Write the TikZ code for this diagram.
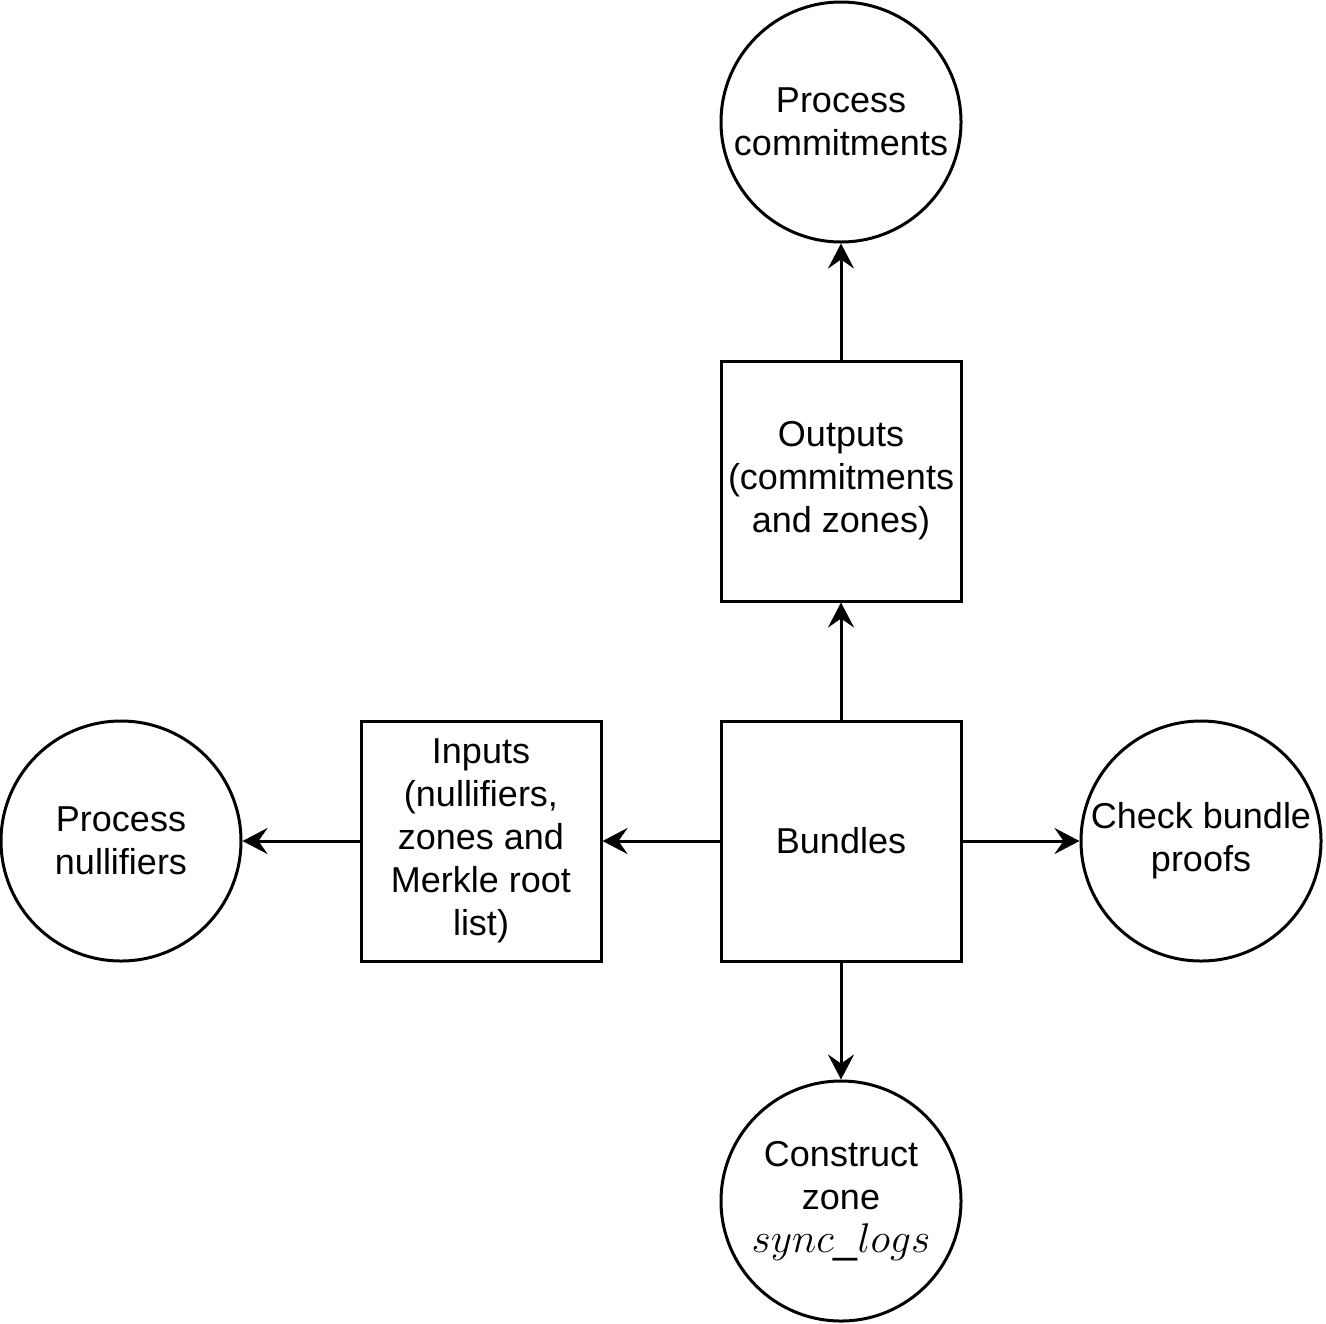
\documentclass[tikz,border=0pt]{standalone}
\usepackage{fontspec}
\setmainfont{Liberation Sans}
\usetikzlibrary{arrows.meta,positioning}

\begin{document}
\begin{tikzpicture}[x=0.5pt,y=-0.5pt,
    stage/.style={draw,line width=1.5pt,minimum size=120pt,inner sep=1pt,align=center,font=\fontsize{18}{21.5}\selectfont},
    task/.style={stage,circle},
    flow/.style={-{Stealth[length=12.5pt,width=13pt,inset=4.5pt]},line width=1.5pt}]
  \useasboundingbox (0,0) rectangle (1326,1323);
  % Centre and its two parts
  \node[stage] (bundles) at (841,841) {Bundles};
  \node[stage] (outputs) at (841,481) {Outputs\\(commitments\\and zones)};
  \node[stage] (inputs) at (481,841) {Inputs\\(nullifiers,\\zones and\\Merkle root\\list)};
  % Processing steps
  \node[task] (commit) at (841,122) {Process\\commitments};
  \node[task] (nullif) at (121,841) {Process\\nullifiers};
  \node[task] (proofs) at (1201,841) {Check bundle\\proofs};
  \node[task] (synclog) at (841,1201) {Construct\\zone\\{\fontsize{21.5}{21.5}\selectfont$sync\_logs$}};
  % Flows
  \draw[flow] (bundles) -- (outputs);
  \draw[flow] (outputs) -- (commit);
  \draw[flow] (bundles) -- (inputs);
  \draw[flow] (inputs) -- (nullif);
  \draw[flow] (bundles) -- (proofs);
  \draw[flow] (bundles) -- (synclog);
\end{tikzpicture}
\end{document}
